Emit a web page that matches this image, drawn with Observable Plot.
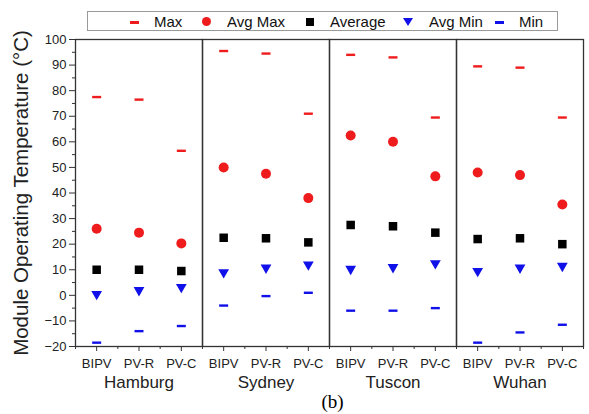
<!DOCTYPE html>
<html>
<head>
<meta charset="utf-8">
<script src="https://cdn.jsdelivr.net/npm/d3@7"></script>
<script src="https://cdn.jsdelivr.net/npm/@observablehq/plot@0.6"></script>
<style>
  html, body { margin: 0; padding: 0; background: #fff; }
  #wrap { position: relative; width: 589px; font-family: "Liberation Sans", Arial, sans-serif; }
  #legend { position: relative; height: 34px; }
  #legend .box { position: absolute; left: 87px; top: 11px; width: 471px; height: 20px; border: 1px solid #9a9a9a; box-sizing: border-box; }
  #legend .item { position: absolute; top: 0; font-size: 15px; line-height: 19px; color: #111; white-space: nowrap; }
  #legend .sym { position: absolute; }
  #caption { font-family: "Liberation Serif", "Times New Roman", serif; font-size: 19px; line-height: 20px; text-align: center; width: 589px; padding-left: 76px; box-sizing: border-box; margin-top: -4px; }
  svg { overflow: visible; }
</style>
</head>
<body>
<div id="wrap">
  <div id="legend"><div class="box"></div></div>
  <div id="chart"></div>
  <div id="caption">(b)</div>
</div>
<script>
const cities = ["Hamburg", "Sydney", "Tuscon", "Wuhan"];
const types = ["BIPV", "PV-R", "PV-C"];
// values per city, in order of types
const maxT    = [[77.5, 76.5, 56.5], [95.5, 94.5, 71.0], [94.0, 93.0, 69.5], [89.5, 89.0, 69.5]];
const avgMaxT = [[26.0, 24.5, 20.3], [50.0, 47.5, 38.0], [62.5, 60.0, 46.5], [48.0, 47.0, 35.5]];
const avgT    = [[10.0, 10.0, 9.5],  [22.5, 22.3, 20.7], [27.5, 27.0, 24.5], [22.0, 22.3, 20.0]];
const avgMinT = [[0.5, 2.0, 3.2],    [9.0, 10.8, 12.0],  [10.3, 11.0, 12.5], [9.5, 10.8, 11.5]];
const minT    = [[-18.5, -14.0, -12.0], [-4.0, -0.3, 1.0], [-6.0, -6.0, -5.0], [-18.5, -14.5, -11.5]];
const yTicks = [-20, -10, 0, 10, 20, 30, 40, 50, 60, 70, 80, 90, 100];
const legendLabels = ["Max", "Avg Max", "Average", "Avg Min", "Min"];

const RED = "#ee1c1c", BLUE = "#1010e8", BLACK = "#000";

const rows = [];
cities.forEach((city, ci) => types.forEach((type, ti) => {
  rows.push({city, type, xi: ti + 0.5,
    max: maxT[ci][ti], avgMax: avgMaxT[ci][ti], avg: avgT[ci][ti],
    avgMin: avgMinT[ci][ti], min: minT[ci][ti]});
}));

const dash = { draw(ctx) { ctx.moveTo(-4.5, -1.2); ctx.lineTo(4.5, -1.2); ctx.lineTo(4.5, 1.2); ctx.lineTo(-4.5, 1.2); ctx.closePath(); } };

const minorY = d3.range(-15, 100, 10);

const chart = Plot.plot({
  width: 589,
  height: 362,
  marginLeft: 74,
  marginRight: 5,
  marginTop: 5,
  marginBottom: 50,
  style: { fontFamily: "'Liberation Sans', Arial, sans-serif", fontSize: "13px", color: "#222", background: "#fff", overflow: "visible" },
  fx: { domain: cities, padding: 0 },
  x: { domain: [0, 3] },
  y: { domain: [-20, 100] },
  marks: [
    Plot.frame({ stroke: "#333", strokeWidth: 1.3 }),
    Plot.axisY({ ticks: yTicks, tickSize: 6, tickPadding: 3, label: null, fontSize: 13, stroke: "#333" }),
    Plot.axisY({ ticks: minorY, tickSize: 3, tickFormat: () => "", label: null, stroke: "#333" }),
    Plot.axisY({ ticks: [], label: "Module Operating Temperature (°C)", labelAnchor: "center", labelArrow: "none", labelOffset: 62, fontSize: 20.5 }),
    Plot.axisX({ ticks: [0.5, 1.5, 2.5], tickFormat: d => types[Math.floor(d)], tickSize: 5, tickPadding: 7, label: null, fontSize: 13, stroke: "#333" }),
    Plot.axisX({ ticks: [0, 1, 2, 3], tickSize: 3, tickFormat: () => "", label: null, stroke: "#333" }),
    Plot.axisFx({ anchor: "bottom", tickSize: 0, tickPadding: 29, label: null, fontSize: 17 }),
    Plot.dot(rows, { fx: "city", x: "xi", y: "max", symbol: dash, fill: RED, stroke: null, r: 5 }),
    Plot.dot(rows, { fx: "city", x: "xi", y: "avgMax", symbol: "circle", fill: RED, stroke: null, r: 5 }),
    Plot.dot(rows, { fx: "city", x: "xi", y: "avg", symbol: "square", fill: BLACK, stroke: null, r: 4.8 }),
    Plot.dot(rows, { fx: "city", x: "xi", y: "avgMin", symbol: "triangle", rotate: 180, fill: BLUE, stroke: null, r: 4 }),
    Plot.dot(rows, { fx: "city", x: "xi", y: "min", symbol: dash, fill: BLUE, stroke: null, r: 5 })
  ]
});
document.getElementById("chart").appendChild(chart);

// Legend
const legend = document.querySelector("#legend .box");
const symX = [46, 118, 222, 320, 411];
const txtX = [66, 139, 242, 341, 431];
const symHtml = [
  `<div class="sym" style="left:-4.5px;top:9px;width:9px;height:2.5px;background:${RED}"></div>`,
  `<div class="sym" style="left:-4.5px;top:5px;width:9px;height:9px;border-radius:50%;background:${RED}"></div>`,
  `<div class="sym" style="left:-4px;top:5.5px;width:8px;height:8px;background:${BLACK}"></div>`,
  `<div class="sym" style="left:-5px;top:6px;width:0;height:0;border-left:5px solid transparent;border-right:5px solid transparent;border-top:8px solid ${BLUE}"></div>`,
  `<div class="sym" style="left:-4.5px;top:9px;width:9px;height:2.5px;background:${BLUE}"></div>`
];
legendLabels.forEach((lab, i) => {
  const s = document.createElement("div");
  s.className = "item";
  s.style.left = symX[i] + "px";
  s.innerHTML = symHtml[i];
  legend.appendChild(s);
  const t = document.createElement("div");
  t.className = "item";
  t.style.left = txtX[i] + "px";
  t.textContent = lab;
  legend.appendChild(t);
});
</script>
</body>
</html>
